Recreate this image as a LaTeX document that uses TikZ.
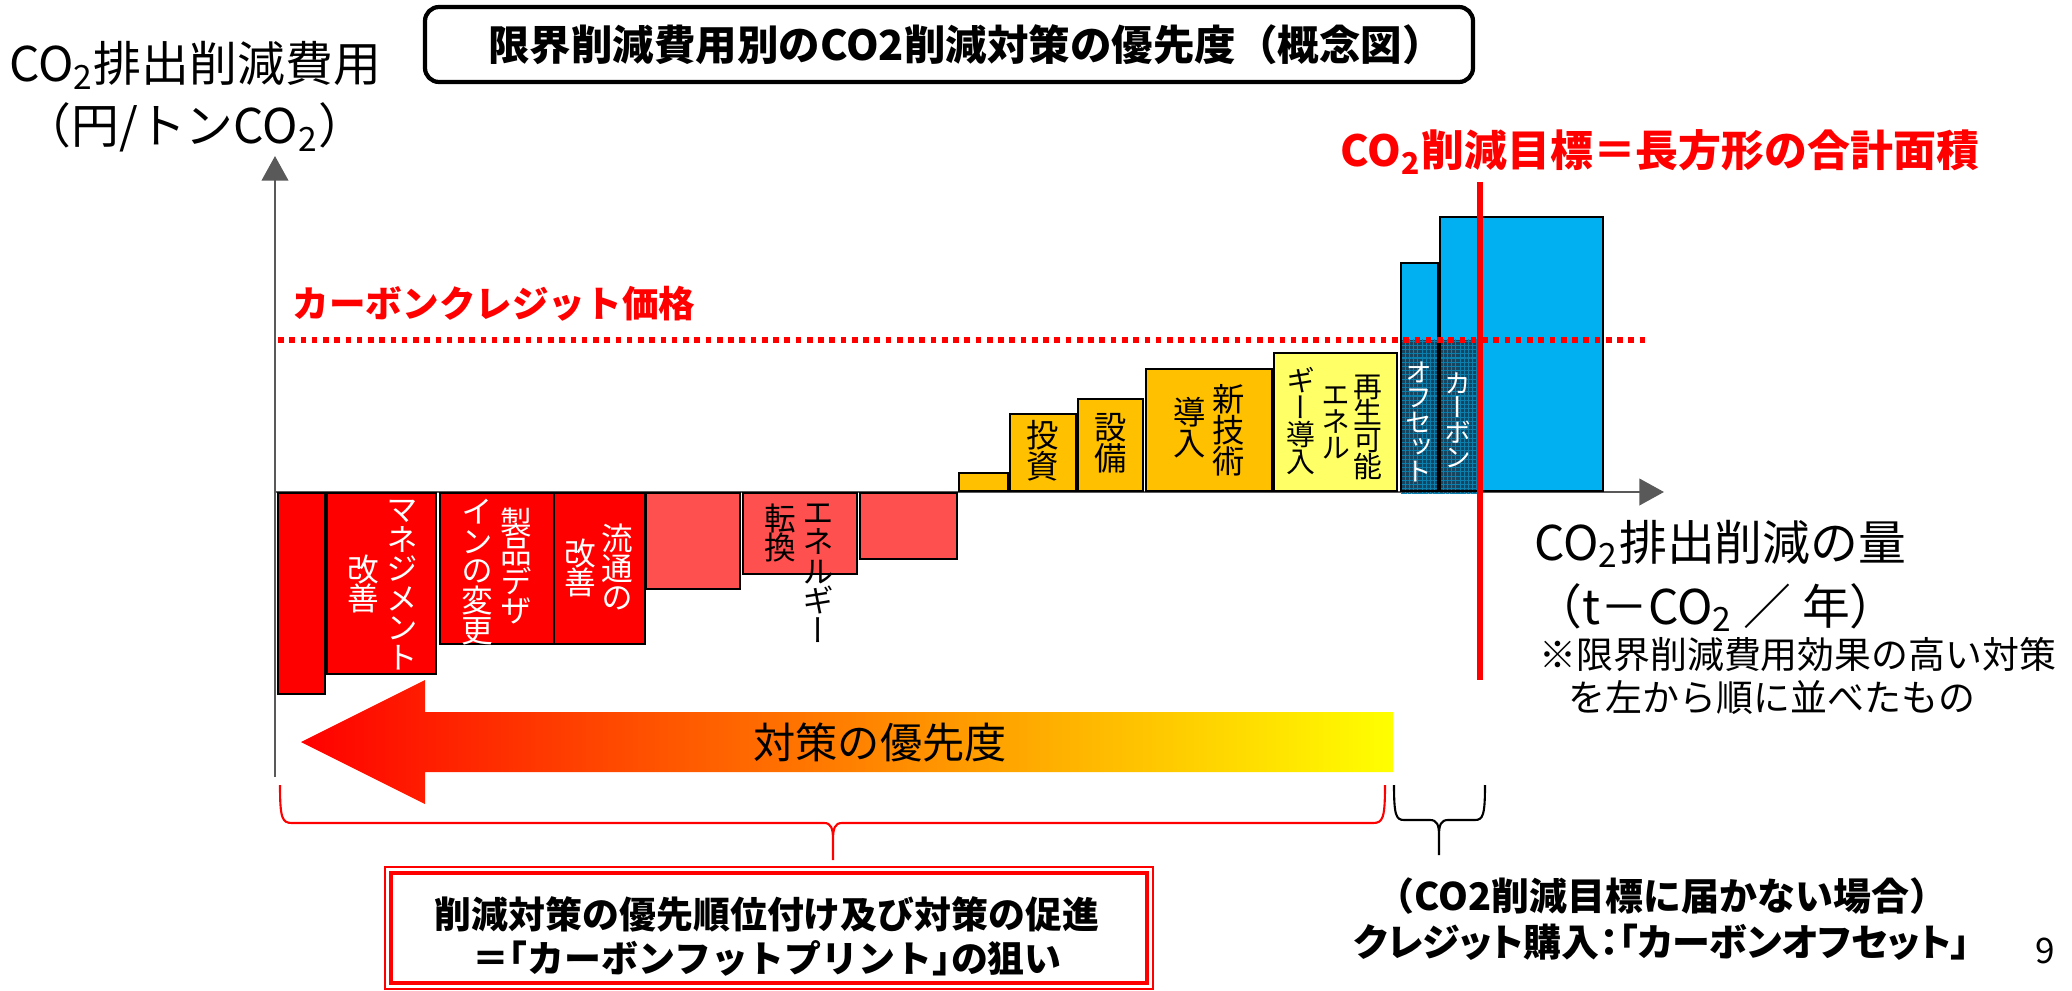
\documentclass[tikz,border=0pt]{standalone}
\usepackage{fontspec}
\setmainfont{Noto Sans CJK JP}
\newfontfamily\vjp[RawFeature=+vert]{Noto Sans CJK JP}
\newfontfamily\pjp[RawFeature=+palt]{Noto Sans CJK JP}
\newfontfamily\hjp[RawFeature=+halt]{Noto Sans CJK JP}
\usetikzlibrary{arrows.meta,patterns.meta}
\definecolor{barred}{HTML}{FF0000}
\definecolor{barpink}{HTML}{FF5050}
\definecolor{barorange}{HTML}{FFC000}
\definecolor{baryellow}{HTML}{FFFF66}
\definecolor{barblue}{HTML}{00B0F0}
\definecolor{offsetblue}{HTML}{17455F}
\definecolor{axisgray}{HTML}{595959}
\newcommand\fs[2]{\fontsize{#1}{#2}\selectfont}

\begin{document}
\begin{tikzpicture}[x=0.01cm, y=-0.01cm,
  bar/.style={draw=black, line width=0.6pt},
  axis/.style={axisgray, line width=0.8pt, -{Triangle[length=7pt,width=7.5pt]}},
  vtext/.style={align=center, inner sep=0pt, font=\vjp\fs{9pt}{8.4pt}},
  vbig/.style={vtext, font=\vjp\fs{9.2pt}{8.8pt}},
  vsmall/.style={vtext, font=\vjp\fs{8.2pt}{7.6pt}},
  vwhite/.style={vtext, white, font=\vjp\fs{7.6pt}{7pt}},
  brace/.style={line width=0.6pt}]
  \useasboundingbox (0,0) rectangle (2072,991);
  \coordinate (o) at (275,492);
  \coordinate (ytip) at (275,156);
  \coordinate (xtip) at (1664,492);
  \draw[axis] (275,777) -- (ytip);
  \draw[axis] (o) -- (xtip);
  \foreach \xa/\xb/\yb/\c in {278/325/694/barred, 327/436/674/barred, 440/554/644/barred,
      554/645/644/barred, 646/740/589/barpink, 743/857/574/barpink, 860/957/559/barpink}
    \draw[bar, fill=\c] (\xa,493) rectangle (\xb,\yb);
  \foreach \xa/\xb/\yb/\c in {959/1008/473/barorange, 1010/1076/414/barorange,
      1078/1143/399/barorange, 1146/1272/369/barorange, 1274/1397/353/baryellow,
      1401/1438/263/barblue, 1440/1603/217/barblue}
    \draw[bar, fill=\c] (\xa,491) rectangle (\xb,\yb);
  \fill[offsetblue] (1401,340) rectangle (1480,493);
  \fill[pattern={Hatch[distance=1.2pt,line width=0.3pt]}, pattern color=barblue!55!offsetblue] (1401,340) rectangle (1480,493);
  \draw[bar] (1401,491) rectangle (1438,263) (1440,491) rectangle (1603,217);
  \draw[barred, line width=1.6pt, dash pattern=on 1.6pt off 1.6pt] (278,340) -- (1650,340);
  \draw[barred, line width=1.7pt] (1480,182) -- (1480,680);

  \draw[rounded corners=4pt, line width=1.2pt] (425,7) rectangle (1473,82);
  \node[font=\bfseries\fs{11.8pt}{14pt}] (title) at (966,45) {限界削減費用別のCO2削減対策の優先度（概念図）};
  \node[align=center, font=\fs{13.6pt}{17.6pt}] (ylab) at (195,97) {CO\textsubscript{2}排出削減費用\\（円/トンCO\textsubscript{2}）};
  \node[barred, font=\bfseries\fs{10.4pt}{12pt}] (price) at (494,304) {カーボンクレジット価格};
  \node[barred, font=\bfseries\fs{12.2pt}{14pt}] (target) at (1660,152) {CO\textsubscript{2}削減目標＝長方形の合計面積};
  \node[anchor=west, align=left, font=\fs{13.6pt}{18.2pt}] (xlab) at (1522,576) {CO\textsubscript{2}排出削減の量\\（t－CO\textsubscript{2} ／ 年）};
  \node[anchor=west, align=left, font=\fs{10.5pt}{12.2pt}] (note) at (1527,676) {※限界削減費用効果の高い対策\\\hspace{0.8em}を左から順に並べたもの};

  \node[vtext, white] (mng) at (402,585) {マ\\ネ\\ジ\\メ\\ン\\ト};
  \node[vtext, white] (mngb) at (363,584) {改\\善};
  \node[vtext, white] (dsn) at (516,566) {製\\品\\デ\\ザ};
  \node[vtext, white] (dsnb) at (477,572) {イ\\ン\\の\\変\\更};
  \node[vtext, white] (dst) at (617,567) {流\\通\\の};
  \node[vtext, white] (dstb) at (580,568) {改\\善};
  \node[vtext, anchor=north] (enr) at (818,503) {エ\\ネ\\ル\\ギ\\ー};
  \node[vtext, anchor=north] (enrb) at (780,503) {転\\換};
  \node[vbig] (inv) at (1043,451) {投\\資};
  \node[vbig] (eqp) at (1111,443) {設\\備};
  \node[vbig] (tec) at (1229,430) {新\\技\\術};
  \node[vbig] (tecb) at (1190,428) {導\\入};
  \node[vsmall] (ren) at (1368,427) {再\\生\\可\\能};
  \node[vsmall] (renb) at (1336,423) {エ\\ネ\\ル};
  \node[vsmall] (renc) at (1301,421) {ギ\\ー\\導\\入};
  \node[vwhite] (cbn) at (1458,420) {カ\\ー\\ボ\\ン};
  \node[vwhite] (ofs) at (1419,422) {オ\\フ\\セ\\ッ\\ト};

  \shade[left color=barred, middle color={rgb,255:red,255;green,153;blue,0}, right color=yellow]
    (301,742) -- (425,680) -- (425,712) -- (1393,712) -- (1393,772) -- (425,772) -- (425,804) -- cycle;
  \node[font=\fs{12pt}{14pt}] (prio) at (880,742) {対策の優先度};

  \draw[brace, barred] (280,785) .. controls (280,818) and (282,823) .. (292,823) -- (824,823)
    .. controls (831,823) and (833,828) .. (833,840) -- (833,860)
    (833,840) .. controls (833,828) and (835,823) .. (842,823) -- (1373,823)
    .. controls (1383,823) and (1385,818) .. (1385,785);
  \draw[brace] (1394,785) .. controls (1394,815) and (1396,820) .. (1404,820) -- (1430,820)
    .. controls (1437,820) and (1439,825) .. (1439,835) -- (1439,855)
    (1439,835) .. controls (1439,825) and (1441,820) .. (1448,820) -- (1475,820)
    .. controls (1483,820) and (1485,815) .. (1485,785);

  \draw[barred, line width=0.6pt] (385,867) rectangle (1153,989);
  \draw[barred, line width=0.9pt] (391,873) rectangle (1147,983);
  \node[align=center, font=\bfseries\fs{10.5pt}{12.5pt}] (aim) at (767,936) {削減対策の優先順位付け及び対策の促進\\{\hjp＝「カーボンフットプリント」の狙い}};
  \node[align=center, font=\bfseries\fs{10.8pt}{13pt}] (offset) at (1662,919) {（CO2削減目標に届かない場合）\\{\pjp クレジット購入：「カーボンオフセット」}};
  \node[font=\fs{10pt}{12pt}] (page) at (2045,951) {9};
\end{tikzpicture}
\end{document}
